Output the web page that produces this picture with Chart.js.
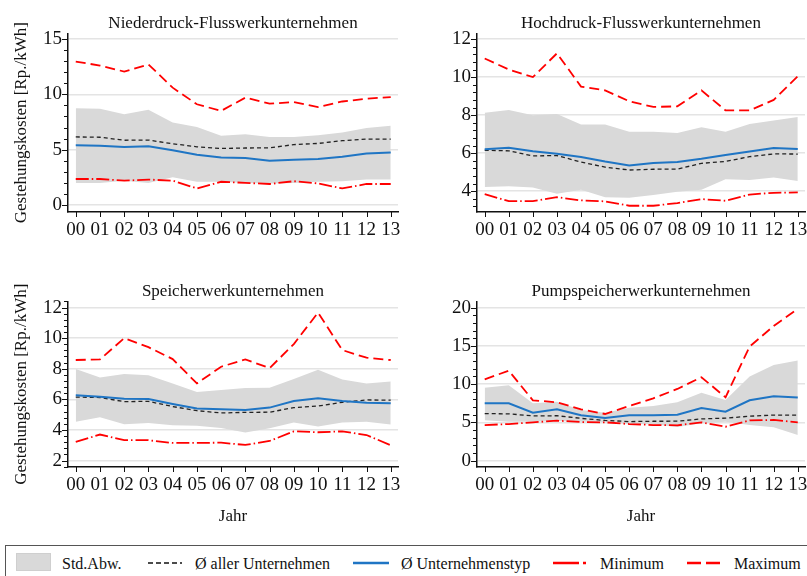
<!DOCTYPE html>
<html>
<head>
<meta charset="utf-8">
<script src="https://cdn.jsdelivr.net/npm/chart.js@4"></script>
<style>
  body { margin: 0; background: #fff; width: 807px; height: 576px; overflow: hidden; position: relative; font-family: 'Liberation Serif', 'Times New Roman', serif; }
  canvas { position: absolute; }
  #legend { position: absolute; left: 5px; top: 545px; width: 830px; height: 40px; border: 1.5px solid #555; box-sizing: border-box; }
  .lg { position: absolute; font-size: 16px; color: #111; top: 555px; line-height: 18px; white-space: nowrap; }
  svg { position: absolute; }
</style>
</head>
<body>
<canvas id="c1" width="403" height="250" style="left:0;top:0"></canvas>
<canvas id="c2" width="404" height="250" style="left:403px;top:0"></canvas>
<canvas id="c3" width="403" height="272" style="left:0;top:270px"></canvas>
<canvas id="c4" width="404" height="272" style="left:403px;top:270px"></canvas>

<div id="legend"></div>
<div style="position:absolute;left:16px;top:553px;width:35px;height:18px;background:#d9d9d9;border:1px solid #cfcfcf;box-sizing:border-box"></div>
<div class="lg" style="left:62px">Std.Abw.</div>
<svg style="left:148px;top:558px" width="34" height="10"><line x1="0" y1="5" x2="34" y2="5" stroke="#111" stroke-width="1.5" stroke-dasharray="5,3"/></svg>
<div class="lg" style="left:195px">Ø aller Unternehmen</div>
<svg style="left:353px;top:558px" width="36" height="10"><line x1="0" y1="5" x2="36" y2="5" stroke="#1f75c4" stroke-width="2.5"/></svg>
<div class="lg" style="left:401px">Ø Unternehmenstyp</div>
<svg style="left:553px;top:558px" width="37" height="10"><line x1="0" y1="5" x2="37" y2="5" stroke="#ff0000" stroke-width="2.5" stroke-dasharray="26,4,3,4"/></svg>
<div class="lg" style="left:600px">Minimum</div>
<svg style="left:687px;top:558px" width="34" height="10"><line x1="0" y1="5" x2="34" y2="5" stroke="#ff0000" stroke-width="2.5" stroke-dasharray="14,5"/></svg>
<div class="lg" style="left:734px">Maximum</div>

<script>
// Jahre 2000-2013
const years = ['00','01','02','03','04','05','06','07','08','09','10','11','12','13'];

// Ø aller Unternehmen (gleich in allen Panels)
const avgAll = [6.15, 6.12, 5.85, 5.87, 5.53, 5.26, 5.11, 5.15, 5.16, 5.46, 5.56, 5.81, 5.96, 5.95];

// Niederdruck-Flusswerkunternehmen
const ndMax   = [12.95, 12.6, 12.05, 12.7, 10.6, 9.1, 8.5, 9.7, 9.15, 9.3, 8.85, 9.35, 9.6, 9.75];
const ndSdUp  = [8.75, 8.7, 8.2, 8.6, 7.45, 7.05, 6.25, 6.4, 6.15, 6.15, 6.3, 6.55, 6.95, 7.15];
const ndSdLow = [2.0, 2.0, 2.2, 2.0, 2.5, 2.1, 2.1, 2.0, 1.95, 2.0, 2.1, 2.15, 2.3, 2.3];
const ndMin   = [2.35, 2.35, 2.2, 2.3, 2.2, 1.5, 2.1, 2.0, 1.9, 2.15, 1.95, 1.5, 1.9, 1.9];
const ndType  = [5.4, 5.35, 5.25, 5.3, 4.95, 4.55, 4.3, 4.25, 4.0, 4.1, 4.15, 4.35, 4.65, 4.75];

// Hochdruck-Flusswerkunternehmen
const hdMax   = [10.98, 10.4, 10.0, 11.25, 9.5, 9.3, 8.73, 8.43, 8.46, 9.3, 8.25, 8.25, 8.8, 10.05];
const hdSdUp  = [8.13, 8.27, 7.99, 8.06, 7.5, 7.5, 7.13, 7.13, 7.06, 7.36, 7.13, 7.53, 7.71, 7.9];
const hdSdLow = [4.21, 4.26, 4.19, 3.86, 4.07, 3.68, 3.65, 3.79, 3.96, 4.07, 4.62, 4.58, 4.72, 4.53];
const hdMin   = [3.84, 3.47, 3.47, 3.68, 3.51, 3.46, 3.23, 3.23, 3.37, 3.58, 3.49, 3.82, 3.91, 3.93];
const hdType  = [6.2, 6.28, 6.1, 5.97, 5.8, 5.56, 5.35, 5.48, 5.53, 5.7, 5.9, 6.09, 6.27, 6.21];

// Speicherwerkunternehmen
const spMax   = [8.57, 8.61, 10.0, 9.41, 8.63, 7.04, 8.13, 8.61, 8.04, 9.61, 11.67, 9.22, 8.72, 8.57];
const spSdUp  = [7.98, 7.43, 7.65, 7.57, 7.04, 6.48, 6.61, 6.74, 6.76, 7.33, 7.93, 7.3, 7.04, 7.17];
const spSdLow = [4.54, 4.83, 4.37, 4.46, 4.3, 4.28, 4.13, 3.83, 4.11, 4.48, 4.22, 4.48, 4.54, 4.35];
const spMin   = [3.22, 3.7, 3.33, 3.33, 3.15, 3.15, 3.17, 3.02, 3.28, 3.91, 3.85, 3.91, 3.67, 3.0];
const spType  = [6.26, 6.17, 6.04, 6.02, 5.7, 5.41, 5.35, 5.3, 5.46, 5.89, 6.07, 5.89, 5.78, 5.74];

// Pumpspeicherwerkunternehmen
const psMax   = [10.63, 11.76, 7.89, 7.63, 6.71, 6.1, 7.15, 8.15, 9.37, 10.9, 8.28, 14.9, 17.6, 19.83];
const psSdUp  = [9.54, 9.85, 7.49, 7.71, 6.62, 6.27, 6.93, 7.15, 7.63, 8.89, 7.93, 10.98, 12.5, 13.07];
const psSdLow = [5.27, 5.1, 5.1, 5.19, 5.1, 5.05, 4.79, 4.75, 4.4, 4.88, 5.1, 4.66, 4.36, 3.36];
const psMin   = [4.66, 4.79, 5.01, 5.23, 5.05, 5.01, 4.79, 4.66, 4.62, 5.01, 4.44, 5.27, 5.32, 5.01];
const psType  = [7.49, 7.49, 6.27, 6.71, 5.93, 5.58, 5.93, 5.93, 6.01, 6.88, 6.41, 7.89, 8.41, 8.24];

const FONT = "'Liberation Serif', 'Times New Roman', serif";
const pts = arr => arr.map((v, i) => ({ x: i, y: v }));

// draws the small tick marks on both axes (minor ones shorter)
const tickMarks = {
  id: 'tickMarks',
  afterDraw(chart, args, opts) {
    const ctx = chart.ctx;
    const x = chart.scales.x, y = chart.scales.y;
    ctx.save();
    ctx.strokeStyle = '#111';
    ctx.lineWidth = 1;
    ctx.beginPath();
    const step = opts.step;
    for (let k = Math.ceil(y.min / step); k * step <= y.max + 1e-9; k++) {
      const v = k * step;
      const major = Math.abs(v - Math.round(v)) < 1e-6 && Math.round(v) % opts.major === 0;
      const py = Math.round(y.getPixelForValue(v)) + 0.5;
      ctx.moveTo(y.right, py);
      ctx.lineTo(y.right - (major ? 6 : 4), py);
    }
    for (let i = 0; i < years.length; i++) {
      const px = Math.round(x.getPixelForValue(i)) + 0.5;
      ctx.moveTo(px, x.top);
      ctx.lineTo(px, x.top + 5);
    }
    ctx.stroke();
    ctx.restore();
  }
};

function makePanel(id, cfg) {
  const isMajor = v => Math.abs(v - Math.round(v)) < 1e-6 && Math.round(v) % cfg.major === 0;
  const datasets = [
    { data: pts(cfg.sdUp), borderWidth: 0, pointRadius: 0, fill: '+1', backgroundColor: '#d9d9d9', order: 10 },
    { data: pts(cfg.sdLow), borderWidth: 0, pointRadius: 0, fill: false, order: 10 },
    { data: pts(avgAll), borderColor: '#222', borderWidth: 1.3, borderDash: [4, 3], pointRadius: 0, fill: false, order: 3 },
    { data: pts(cfg.type), borderColor: '#1f75c4', borderWidth: 2, pointRadius: 0, fill: false, order: 2 },
    { data: pts(cfg.min), borderColor: '#ff0000', borderWidth: 1.8, borderDash: [13, 3, 1.5, 3], pointRadius: 0, fill: false, order: 1 },
    { data: pts(cfg.max), borderColor: '#ff0000', borderWidth: 1.8, borderDash: [10, 5], pointRadius: 0, fill: false, order: 1 }
  ];
  new Chart(document.getElementById(id), {
    type: 'line',
    data: { datasets },
    plugins: [tickMarks],
    options: {
      responsive: false,
      animation: false,
      layout: { padding: { left: 0, right: cfg.padRight, top: 0, bottom: 0 } },
      plugins: {
        legend: { display: false },
        tooltip: { enabled: false },
        tickMarks: { step: cfg.step, major: cfg.major },
        title: {
          display: true, text: cfg.title, fullSize: false, color: '#111',
          font: { family: FONT, size: 17, weight: 'normal' },
          padding: { top: cfg.titleTop, bottom: cfg.titleBottom }
        }
      },
      scales: {
        x: {
          type: 'linear', min: -0.32, max: 13.3,
          border: { color: '#111', width: 1.5 },
          grid: { drawOnChartArea: false, tickColor: 'rgba(0,0,0,0)', tickLength: 5 },
          ticks: {
            stepSize: 1, includeBounds: false, autoSkip: false, maxRotation: 0, maxTicksLimit: 100,
            padding: 2, color: '#111', font: { family: FONT, size: 19 },
            callback: v => years[v] !== undefined ? years[v] : ''
          },
          title: {
            display: cfg.xTitle, text: 'Jahr', color: '#111',
            font: { family: FONT, size: 17 }, padding: { top: 0, bottom: 15 }
          },
          afterFit: s => { s.height = cfg.xHeight; s.paddingLeft = 0; s.paddingRight = 0; }
        },
        y: {
          min: cfg.yMin, max: cfg.yMax,
          border: { color: '#111', width: 1.5 },
          grid: {
            color: c => (c.tick && isMajor(c.tick.value)) ? '#e4e4e4' : 'rgba(0,0,0,0)',
            lineWidth: 1.5, tickColor: 'rgba(0,0,0,0)', tickLength: 5
          },
          ticks: {
            stepSize: cfg.step, includeBounds: false, autoSkip: false, maxTicksLimit: 100,
            padding: 1, color: '#111', font: { family: FONT, size: 19 },
            callback: v => isMajor(v) ? String(Math.round(v)) : ''
          },
          title: {
            display: cfg.yTitle, text: 'Gestehungskosten [Rp./kWh]', color: '#111',
            font: { family: FONT, size: 17 }, padding: { top: 11, bottom: 0 }
          },
          afterFit: s => { s.width = cfg.yWidth; s.paddingTop = 0; s.paddingBottom = 0; }
        }
      }
    }
  });
}

makePanel('c1', { title: 'Niederdruck-Flusswerkunternehmen', max: ndMax, sdUp: ndSdUp, sdLow: ndSdLow, min: ndMin, type: ndType,
  yMin: -0.63, yMax: 15.5, step: 1, major: 5, yWidth: 68, yTitle: true, xTitle: false, xHeight: 38, padRight: 5, titleTop: 13, titleBottom: 0 });
makePanel('c2', { title: 'Hochdruck-Flusswerkunternehmen', max: hdMax, sdUp: hdSdUp, sdLow: hdSdLow, min: hdMin, type: hdType,
  yMin: 2.9, yMax: 12.3, step: 0.4, major: 2, yWidth: 74, yTitle: false, xTitle: false, xHeight: 38, padRight: 2, titleTop: 13, titleBottom: 0 });
makePanel('c3', { title: 'Speicherwerkunternehmen', max: spMax, sdUp: spSdUp, sdLow: spSdLow, min: spMin, type: spType,
  yMin: 1.58, yMax: 12.4, step: 0.4, major: 2, yWidth: 68, yTitle: true, xTitle: true, xHeight: 75, padRight: 5, titleTop: 11, titleBottom: 0 });
makePanel('c4', { title: 'Pumpspeicherwerkunternehmen', max: psMax, sdUp: psSdUp, sdLow: psSdLow, min: psMin, type: psType,
  yMin: -0.82, yMax: 20.8, step: 1, major: 5, yWidth: 74, yTitle: false, xTitle: true, xHeight: 75, padRight: 2, titleTop: 11, titleBottom: 0 });
</script>
</body>
</html>
